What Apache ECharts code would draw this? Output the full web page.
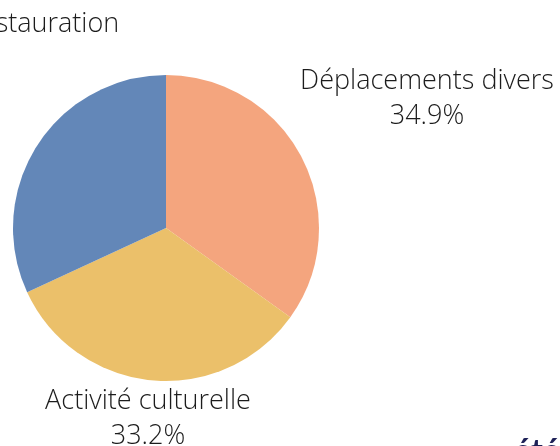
<!DOCTYPE html>
<html lang="fr">
  <head>
    <meta charset="UTF-8" />
    <title>Répartition</title>
    <script src="https://cdn.jsdelivr.net/npm/echarts@6/dist/echarts.min.js"></script>
    <style>
      html, body { margin: 0; padding: 0; background: #fff; }
      #chart { width: 560px; height: 446px; }
    </style>
  </head>
  <body>
    <div id="chart"></div>
    <script>
      // données du graphique
      var categories = ["Déplacements divers", "Activité culturelle", "Restauration"];
      var shares = [34.9, 33.2, 31.9];
      var colors = ["#F4A57E", "#EBC06A", "#6387B8"];

      // centre des étiquettes (px)
      var labelAnchors = [
        [427, 99],
        [148, 419],
        [42, 7]
      ];

      var chart = echarts.init(document.getElementById("chart"));

      var option = {
        backgroundColor: "#fff",
        animation: false,
        textStyle: { fontFamily: "Open Sans" },
        series: [
          {
            type: "pie",
            center: [166, 228],
            radius: [0, 153],
            startAngle: 90,
            clockwise: true,
            silent: true,
            avoidLabelOverlap: false,
            data: categories.map(function (name, i) {
              return {
                name: name,
                value: shares[i],
                itemStyle: { color: colors[i] },
                label: i === 2 ? { formatter: "{c}%\n{b}" } : {}
              };
            }),
            label: {
              show: true,
              position: "outside",
              formatter: "{b}\n{c}%",
              color: "#1c1c1c",
              fontFamily: "Open Sans",
              fontWeight: 300,
              fontSize: 27,
              lineHeight: 35,
              overflow: "none",
              align: "center"
            },
            labelLine: { show: false },
            labelLayout: function (params) {
              var p = labelAnchors[params.dataIndex];
              return { x: p[0], y: p[1], align: "center", verticalAlign: "middle", hideOverlap: false };
            }
          }
        ],
        graphic: [
          {
            type: "text",
            left: 514,
            top: 436,
            style: { text: "été", fill: "#1E2157", font: "bold 32px Lato" }
          }
        ]
      };

      chart.setOption(option);
    </script>
  </body>
</html>
